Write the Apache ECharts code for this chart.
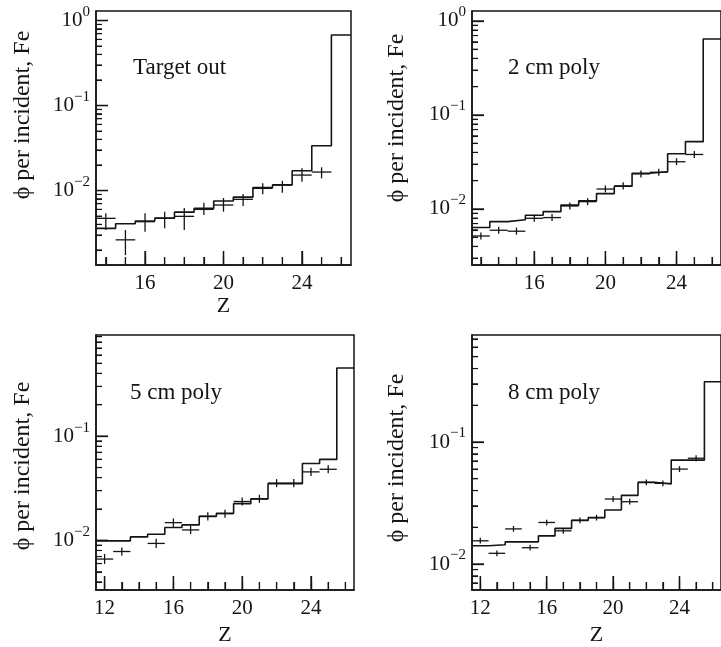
<!DOCTYPE html>
<html><head><meta charset="utf-8">
<script src="https://cdn.jsdelivr.net/npm/echarts@6/dist/echarts.min.js"></script>
<style>html,body{margin:0;padding:0;background:#fff}#c{width:721px;height:647px}</style>
</head><body><div id="c"></div>
<script>
// ---------- data ----------
// Panel 1: Target out
const histZ1 = [14,15,16,17,18,19,20,21,22,23,24,25,26];
const hist1  = [0.00359,0.00407,0.00438,0.00473,0.00557,0.00616,0.00752,0.00836,0.01084,0.01167,0.0171,0.0337,0.675];
const ptZ1   = [14,15,16,17,18,19,20,21,22,23,24,25];
const pt1    = [0.00471,0.00263,0.0043,0.00471,0.00497,0.0060,0.00675,0.00788,0.0106,0.01161,0.0152,0.0165];
const lo1    = [0.00343,0.00174,0.00327,0.00359,0.00343,0.00515,0.00564,0.00658,0.00902,0.00942,0.0127,0.01393];
const hi1    = [0.0054,0.00343,0.0054,0.00564,0.00622,0.00718,0.00816,0.0091,0.01216,0.01303,0.01824,0.01875];
// Panel 2: 2 cm poly
const histZ2 = [13,14,15,16,17,18,19,20,21,22,23,24,25,26];
const hist2  = [0.00635,0.00733,0.00769,0.00857,0.00936,0.0110,0.0122,0.01455,0.01743,0.0240,0.0249,0.0387,0.0520,0.644];
const ptZ2   = [13,14,15,16,17,18,19,20,21,22,23,24,25];
const pt2    = [0.00516,0.00594,0.0058,0.00796,0.0081,0.01076,0.01196,0.0163,0.0176,0.0236,0.0246,0.0318,0.0380];
const lo2    = [0.00474,0.00545,0.00532,0.0073,0.00743,0.00987,0.01097,0.0150,0.0161,0.0216,0.0226,0.0292,0.0349];
const hi2    = [0.00562,0.00648,0.00633,0.00868,0.00883,0.01173,0.01304,0.0178,0.0192,0.0257,0.0268,0.0347,0.0414];
// Panel 3: 5 cm poly
const histZ3 = [12,13,14,15,16,17,18,19,20,21,22,23,24,25,26];
const hist3  = [0.0099,0.0099,0.0108,0.01143,0.01328,0.01408,0.0170,0.0182,0.0225,0.025,0.035,0.035,0.0547,0.0598,0.45];
const ptZ3   = [12,13,15,16,17,18,19,20,21,22,23,24,25];
const pt3    = [0.00662,0.00782,0.00935,0.0148,0.0126,0.0170,0.0180,0.0236,0.025,0.0354,0.0354,0.0454,0.0481];
const lo3    = [0.00592,0.00715,0.00845,0.0135,0.0115,0.0155,0.0165,0.0216,0.0229,0.0324,0.0324,0.0415,0.044];
const hi3    = [0.0074,0.00855,0.01035,0.0162,0.0138,0.0186,0.0197,0.0258,0.0274,0.0387,0.0387,0.0497,0.0526];
// Panel 4: 8 cm poly
const histZ4 = [12,13,14,15,16,17,18,19,20,21,22,23,24,25,26];
const hist4  = [0.0141,0.0144,0.0152,0.0152,0.0170,0.0196,0.0228,0.0240,0.0277,0.0365,0.0467,0.0453,0.0711,0.0711,0.312];
const ptZ4   = [12,13,14,15,16,17,18,19,20,21,22,23,24,25];
const pt4    = [0.0155,0.01224,0.0194,0.0136,0.0219,0.0187,0.0228,0.024,0.0341,0.0324,0.0467,0.0458,0.060,0.0736];
const lo4    = [0.0147,0.0116,0.0184,0.0129,0.0207,0.0177,0.0216,0.0227,0.0323,0.0307,0.0442,0.0434,0.0568,0.0697];
const hi4    = [0.0164,0.0129,0.0205,0.0144,0.0231,0.0197,0.0241,0.0253,0.036,0.0342,0.0493,0.0484,0.0634,0.0777];

const panelTitles = ['Target out','2 cm poly','5 cm poly','8 cm poly'];
const xTickLabelsTop = [16,20,24];
const xTickLabelsBottom = [12,16,20,24];
const xUnitTicks = [11,12,13,14,15,16,17,18,19,20,21,22,23,24,25,26,27];
const yDecades = [-3,-2,-1,0];
const yMantissas = [2,3,4,5,6,7,8,9];
const yTitle = 'ϕ per incident, Fe';
const xTitle = 'Z';

// ---------- layout ----------
const FONT = '"Liberation Serif", "Times New Roman", serif';
const INK = '#141414';
const BIN_HALF = 0.5;
const panels = [
  {hz:histZ1,h:hist1,pz:ptZ1,p:pt1,lo:lo1,hi:hi1,grid:{left:96,top:11,width:255,height:254},x:[13.5,26.5],y:[-2.876,0.112],xl:xTickLabelsTop,zName:true,zGap:24,tPos:[133,68],yPos:[23,115]},
  {hz:histZ2,h:hist2,pz:ptZ2,p:pt2,lo:lo2,hi:hi2,grid:{left:472,top:11,width:255,height:254},x:[12.5,26.5],y:[-2.596,0.106],xl:xTickLabelsTop,zName:false,zGap:24,tPos:[508,68],yPos:[397,118]},
  {hz:histZ3,h:hist3,pz:ptZ3,p:pt3,lo:lo3,hi:hi3,grid:{left:96,top:335,width:258,height:255},x:[11.5,26.5],y:[-2.476,-0.03],xl:xTickLabelsBottom,zName:true,zGap:34,tPos:[130,393],yPos:[23,466]},
  {hz:histZ4,h:hist4,pz:ptZ4,p:pt4,lo:lo4,hi:hi4,grid:{left:472,top:335,width:257,height:255},x:[11.5,26.5],y:[-2.213,-0.123],xl:xTickLabelsBottom,zName:true,zGap:34,tPos:[508,393],yPos:[397,458]}
];

const minorY = [];
yDecades.forEach(n => yMantissas.forEach(k => minorY.push(Math.log10(k * Math.pow(10, n)))));

function tickSeries(i, rows, len, width, vertical) {
  return {
    type:'custom', xAxisIndex:2*i, yAxisIndex:2*i, clip:false,
    encode:{x:0, y:1}, data:rows,
    renderItem:(params, api) => {
      const c = api.coord([api.value(0), api.value(1)]);
      return {type:'line',
        shape: vertical ? {x1:c[0], y1:c[1], x2:c[0], y2:c[1] - len} : {x1:c[0], y1:c[1], x2:c[0] + len, y2:c[1]},
        style:{stroke:INK, lineWidth:width}};
    }
  };
}

const grids = [], xAxes = [], yAxes = [], series = [], graphics = [];
panels.forEach((P, i) => {
  grids.push(Object.assign({show:true, borderColor:INK, borderWidth:1.5, backgroundColor:'transparent'}, P.grid));
  xAxes.push({
    type:'value', gridIndex:i, min:P.x[0], max:P.x[1], position:'bottom',
    axisLine:{show:true, onZero:false, lineStyle:{color:INK, width:1.5}},
    axisTick:{show:true, inside:true, length:14, customValues:P.xl, lineStyle:{color:INK, width:1.3}},
    axisLabel:{customValues:P.xl, margin:8, color:INK, fontFamily:FONT, fontSize:21},
    splitLine:{show:false},
    name:P.zName ? xTitle : '', nameLocation:'middle', nameGap:P.zGap,
    nameTextStyle:{color:INK, fontFamily:FONT, fontSize:22}
  });
  xAxes.push({
    type:'value', gridIndex:i, min:P.x[0], max:P.x[1], position:'bottom',
    axisLine:{show:false, onZero:false},
    axisTick:{show:true, inside:true, length:8, customValues:xUnitTicks, lineStyle:{color:INK, width:1.2}},
    axisLabel:{show:false}, splitLine:{show:false}
  });
  yAxes.push({
    type:'value', gridIndex:i, min:P.y[0], max:P.y[1], position:'left',
    axisLine:{show:true, onZero:false, lineStyle:{color:INK, width:1.5}},
    axisTick:{show:true, inside:true, length:12, customValues:yDecades, lineStyle:{color:INK, width:1.3}},
    axisLabel:{customValues:yDecades, margin:6, color:INK,
      formatter: v => '{a|10}{b|' + (v === 0 ? '0' : '\u2212' + Math.abs(v)) + '}',
      rich:{
        a:{fontFamily:FONT, fontSize:21, color:INK, lineHeight:32},
        b:{fontFamily:FONT, fontSize:15, color:INK, lineHeight:12, verticalAlign:'top'}
      }},
    splitLine:{show:false}
  });
  yAxes.push({
    type:'value', gridIndex:i, min:P.y[0], max:P.y[1], position:'left', offset:0,
    axisLine:{show:false, onZero:false},
    axisTick:{show:true, inside:true, length:6, customValues:minorY, lineStyle:{color:INK, width:1.1}},
    axisLabel:{show:false}, splitLine:{show:false}
  });
  const inX = v => v > P.x[0] && v < P.x[1];
  const inY = v => v > P.y[0] && v < P.y[1];
  series.push(tickSeries(i, P.xl.filter(inX).map(v => [v, P.y[0]]), 14, 1.3, true));
  series.push(tickSeries(i, xUnitTicks.filter(v => inX(v) && P.xl.indexOf(v) < 0).map(v => [v, P.y[0]]), 8, 1.2, true));
  series.push(tickSeries(i, yDecades.filter(inY).map(v => [P.x[0], v]), 12, 1.3, false));
  series.push(tickSeries(i, minorY.filter(inY).map(v => [P.x[0], v]), 6, 1.1, false));
  // histogram (bin edges derived from the bin centres)
  const pts = P.hz.map((z, j) => [z - BIN_HALF, Math.log10(P.h[j])]);
  pts.push([P.hz[P.hz.length - 1] + BIN_HALF, Math.log10(P.h[P.h.length - 1])]);
  series.push({
    type:'line', xAxisIndex:2*i, yAxisIndex:2*i, step:'end', data:pts, symbol:'none',
    lineStyle:{color:INK, width:1.6}, clip:true, silent:true
  });
  // data points with error bars
  series.push({
    type:'custom', xAxisIndex:2*i, yAxisIndex:2*i, clip:true, silent:true,
    encode:{x:0, y:1},
    data:P.pz.map((z, j) => [z, Math.log10(P.p[j]), Math.log10(P.lo[j]), Math.log10(P.hi[j])]),
    renderItem:(params, api) => {
      const z = api.value(0), v = api.value(1), lo = api.value(2), hi = api.value(3);
      const a = api.coord([z - BIN_HALF, v]), b = api.coord([z + BIN_HALF, v]);
      const c = api.coord([z, lo]), d = api.coord([z, hi]);
      const st = {stroke:INK, lineWidth:1.3};
      return {type:'group', children:[
        {type:'line', shape:{x1:a[0], y1:a[1], x2:b[0], y2:b[1]}, style:st},
        {type:'line', shape:{x1:c[0], y1:c[1], x2:d[0], y2:d[1]}, style:st}
      ]};
    }
  });
  graphics.push({type:'text', x:P.tPos[0], y:P.tPos[1], style:{text:panelTitles[i], fill:INK, font:'23px ' + FONT, align:'left', verticalAlign:'middle', textAlign:'left', textVerticalAlign:'middle'}});
  graphics.push({type:'text', x:P.yPos[0], y:P.yPos[1], rotation:Math.PI/2, style:{text:yTitle, fill:INK, font:'24px ' + FONT, align:'center', verticalAlign:'middle', textAlign:'center', textVerticalAlign:'middle'}});
});

const chart = echarts.init(document.getElementById('c'), null, {renderer:'canvas'});
chart.setOption({
  animation:false, backgroundColor:'#fff',
  grid:grids, xAxis:xAxes, yAxis:yAxes, series:series, graphic:graphics
});
</script></body></html>
